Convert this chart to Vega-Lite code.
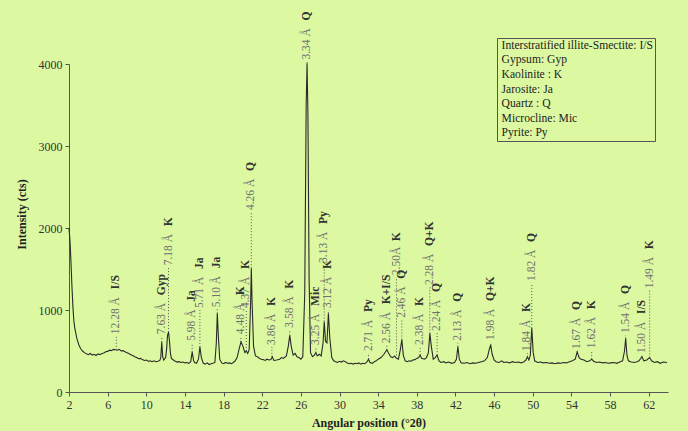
{
  "$schema": "https://vega.github.io/schema/vega-lite/v6.json",
  "width": 599,
  "height": 328,
  "autosize": {"type": "none"},
  "padding": {"left": 69, "top": 64, "right": 20, "bottom": 39},
  "background": "#dcf9a1",
  "config": {
    "view": {"stroke": null},
    "font": "Liberation Serif",
    "axis": {"labelOverlap": false, "labelFlush": false, "grid": false}
  },
  "datasets": {
    "pattern": [
      {"t": 2.0, "i": 2000}, {"t": 2.1, "i": 1850}, {"t": 2.2, "i": 1600}, {"t": 2.3, "i": 1300}, {"t": 2.4, "i": 1050},
      {"t": 2.5, "i": 870}, {"t": 2.6, "i": 780}, {"t": 2.7, "i": 720}, {"t": 2.8, "i": 660}, {"t": 2.9, "i": 620},
      {"t": 3.0, "i": 580}, {"t": 3.2, "i": 530}, {"t": 3.4, "i": 500}, {"t": 3.6, "i": 480}, {"t": 3.8, "i": 465},
      {"t": 4.0, "i": 455}, {"t": 4.2, "i": 470}, {"t": 4.4, "i": 450}, {"t": 4.6, "i": 460}, {"t": 4.8, "i": 445},
      {"t": 5.0, "i": 465}, {"t": 5.2, "i": 455}, {"t": 5.4, "i": 470}, {"t": 5.6, "i": 475}, {"t": 5.8, "i": 490},
      {"t": 6.0, "i": 495}, {"t": 6.2, "i": 510}, {"t": 6.4, "i": 505}, {"t": 6.6, "i": 520}, {"t": 6.8, "i": 515},
      {"t": 7.0, "i": 510}, {"t": 7.2, "i": 520}, {"t": 7.4, "i": 500}, {"t": 7.6, "i": 505}, {"t": 7.8, "i": 490},
      {"t": 8.0, "i": 480}, {"t": 8.2, "i": 470}, {"t": 8.4, "i": 455}, {"t": 8.6, "i": 445}, {"t": 8.8, "i": 430},
      {"t": 9.0, "i": 420}, {"t": 9.2, "i": 405}, {"t": 9.4, "i": 410}, {"t": 9.6, "i": 395}, {"t": 9.8, "i": 385},
      {"t": 10.0, "i": 390}, {"t": 10.2, "i": 375}, {"t": 10.4, "i": 380}, {"t": 10.6, "i": 370}, {"t": 10.8, "i": 380},
      {"t": 11.0, "i": 370}, {"t": 11.2, "i": 375}, {"t": 11.4, "i": 385}, {"t": 11.5, "i": 420}, {"t": 11.6, "i": 610},
      {"t": 11.7, "i": 430}, {"t": 11.8, "i": 390}, {"t": 12.0, "i": 420}, {"t": 12.1, "i": 520}, {"t": 12.2, "i": 690},
      {"t": 12.3, "i": 730}, {"t": 12.4, "i": 620}, {"t": 12.5, "i": 470}, {"t": 12.6, "i": 410}, {"t": 12.8, "i": 390},
      {"t": 13.0, "i": 375}, {"t": 13.2, "i": 365}, {"t": 13.4, "i": 370}, {"t": 13.6, "i": 360}, {"t": 13.8, "i": 365},
      {"t": 14.0, "i": 355}, {"t": 14.2, "i": 360}, {"t": 14.4, "i": 350}, {"t": 14.6, "i": 370}, {"t": 14.75, "i": 490},
      {"t": 14.9, "i": 380}, {"t": 15.0, "i": 360}, {"t": 15.2, "i": 350}, {"t": 15.4, "i": 400}, {"t": 15.55, "i": 550},
      {"t": 15.7, "i": 420}, {"t": 15.9, "i": 350}, {"t": 16.1, "i": 340}, {"t": 16.3, "i": 355}, {"t": 16.5, "i": 335},
      {"t": 16.7, "i": 345}, {"t": 16.9, "i": 350}, {"t": 17.1, "i": 360}, {"t": 17.25, "i": 600}, {"t": 17.35, "i": 960},
      {"t": 17.45, "i": 700}, {"t": 17.6, "i": 400}, {"t": 17.8, "i": 355}, {"t": 18.0, "i": 345}, {"t": 18.2, "i": 360},
      {"t": 18.4, "i": 350}, {"t": 18.6, "i": 355}, {"t": 18.8, "i": 345}, {"t": 19.0, "i": 360}, {"t": 19.2, "i": 380},
      {"t": 19.4, "i": 420}, {"t": 19.6, "i": 520}, {"t": 19.8, "i": 610}, {"t": 20.0, "i": 560}, {"t": 20.2, "i": 480},
      {"t": 20.35, "i": 500}, {"t": 20.5, "i": 470}, {"t": 20.65, "i": 520}, {"t": 20.8, "i": 1100}, {"t": 20.87, "i": 1510},
      {"t": 20.95, "i": 1100}, {"t": 21.1, "i": 560}, {"t": 21.3, "i": 440}, {"t": 21.5, "i": 430}, {"t": 21.7, "i": 410},
      {"t": 21.9, "i": 400}, {"t": 22.1, "i": 395}, {"t": 22.3, "i": 385}, {"t": 22.5, "i": 400}, {"t": 22.7, "i": 390},
      {"t": 22.9, "i": 395}, {"t": 23.05, "i": 430}, {"t": 23.2, "i": 385}, {"t": 23.5, "i": 390}, {"t": 23.8, "i": 400},
      {"t": 24.0, "i": 420}, {"t": 24.2, "i": 410}, {"t": 24.5, "i": 440}, {"t": 24.7, "i": 560}, {"t": 24.85, "i": 690},
      {"t": 25.0, "i": 560}, {"t": 25.2, "i": 450}, {"t": 25.4, "i": 470}, {"t": 25.6, "i": 430}, {"t": 25.8, "i": 420},
      {"t": 26.0, "i": 400}, {"t": 26.2, "i": 430}, {"t": 26.4, "i": 1200}, {"t": 26.55, "i": 3500}, {"t": 26.64, "i": 4010},
      {"t": 26.73, "i": 3400}, {"t": 26.85, "i": 1400}, {"t": 27.0, "i": 480}, {"t": 27.2, "i": 430}, {"t": 27.4, "i": 450},
      {"t": 27.55, "i": 480}, {"t": 27.7, "i": 440}, {"t": 27.9, "i": 460}, {"t": 28.1, "i": 440}, {"t": 28.3, "i": 600},
      {"t": 28.42, "i": 860}, {"t": 28.55, "i": 620}, {"t": 28.7, "i": 600}, {"t": 28.85, "i": 960}, {"t": 29.0, "i": 650},
      {"t": 29.2, "i": 420}, {"t": 29.4, "i": 380}, {"t": 29.6, "i": 370}, {"t": 29.8, "i": 360}, {"t": 30.0, "i": 375},
      {"t": 30.2, "i": 365}, {"t": 30.4, "i": 380}, {"t": 30.6, "i": 370}, {"t": 30.8, "i": 355}, {"t": 31.0, "i": 345},
      {"t": 31.2, "i": 350}, {"t": 31.4, "i": 340}, {"t": 31.6, "i": 350}, {"t": 31.8, "i": 345}, {"t": 32.0, "i": 355},
      {"t": 32.2, "i": 340}, {"t": 32.4, "i": 350}, {"t": 32.6, "i": 345}, {"t": 32.8, "i": 360}, {"t": 33.0, "i": 400},
      {"t": 33.15, "i": 360}, {"t": 33.4, "i": 350}, {"t": 33.6, "i": 370}, {"t": 33.8, "i": 380}, {"t": 34.0, "i": 400},
      {"t": 34.3, "i": 420}, {"t": 34.6, "i": 460}, {"t": 34.9, "i": 515}, {"t": 35.1, "i": 470}, {"t": 35.3, "i": 430},
      {"t": 35.5, "i": 420}, {"t": 35.7, "i": 440}, {"t": 35.9, "i": 410}, {"t": 36.1, "i": 400}, {"t": 36.3, "i": 520},
      {"t": 36.45, "i": 640}, {"t": 36.6, "i": 450}, {"t": 36.8, "i": 380}, {"t": 37.0, "i": 370}, {"t": 37.2, "i": 380},
      {"t": 37.4, "i": 375}, {"t": 37.6, "i": 390}, {"t": 37.8, "i": 395}, {"t": 38.0, "i": 410}, {"t": 38.2, "i": 420},
      {"t": 38.35, "i": 450}, {"t": 38.5, "i": 410}, {"t": 38.8, "i": 400}, {"t": 39.0, "i": 420}, {"t": 39.2, "i": 480},
      {"t": 39.35, "i": 715}, {"t": 39.5, "i": 560}, {"t": 39.7, "i": 400}, {"t": 39.9, "i": 420}, {"t": 40.1, "i": 450},
      {"t": 40.3, "i": 380}, {"t": 40.5, "i": 360}, {"t": 40.8, "i": 370}, {"t": 41.0, "i": 355}, {"t": 41.3, "i": 365},
      {"t": 41.6, "i": 350}, {"t": 41.9, "i": 360}, {"t": 42.1, "i": 400}, {"t": 42.25, "i": 555}, {"t": 42.4, "i": 400},
      {"t": 42.6, "i": 355}, {"t": 42.9, "i": 350}, {"t": 43.2, "i": 360}, {"t": 43.5, "i": 345}, {"t": 43.8, "i": 355},
      {"t": 44.1, "i": 350}, {"t": 44.4, "i": 360}, {"t": 44.7, "i": 370}, {"t": 45.0, "i": 380}, {"t": 45.3, "i": 420},
      {"t": 45.5, "i": 520}, {"t": 45.65, "i": 575}, {"t": 45.8, "i": 460}, {"t": 46.0, "i": 390}, {"t": 46.2, "i": 370},
      {"t": 46.5, "i": 360}, {"t": 46.8, "i": 380}, {"t": 47.0, "i": 360}, {"t": 47.3, "i": 365}, {"t": 47.6, "i": 355},
      {"t": 47.9, "i": 370}, {"t": 48.2, "i": 360}, {"t": 48.5, "i": 365}, {"t": 48.8, "i": 355}, {"t": 49.1, "i": 370},
      {"t": 49.3, "i": 390}, {"t": 49.45, "i": 430}, {"t": 49.6, "i": 390}, {"t": 49.75, "i": 450}, {"t": 49.9, "i": 780},
      {"t": 50.05, "i": 480}, {"t": 50.2, "i": 380}, {"t": 50.5, "i": 360}, {"t": 50.8, "i": 365}, {"t": 51.1, "i": 355},
      {"t": 51.4, "i": 360}, {"t": 51.7, "i": 350}, {"t": 52.0, "i": 355}, {"t": 52.3, "i": 345}, {"t": 52.6, "i": 355},
      {"t": 52.9, "i": 350}, {"t": 53.2, "i": 360}, {"t": 53.5, "i": 355}, {"t": 53.8, "i": 370}, {"t": 54.1, "i": 380},
      {"t": 54.4, "i": 400}, {"t": 54.6, "i": 490}, {"t": 54.8, "i": 420}, {"t": 55.0, "i": 400}, {"t": 55.3, "i": 390},
      {"t": 55.6, "i": 370}, {"t": 55.9, "i": 380}, {"t": 56.1, "i": 400}, {"t": 56.3, "i": 375}, {"t": 56.6, "i": 360},
      {"t": 56.9, "i": 365}, {"t": 57.2, "i": 355}, {"t": 57.5, "i": 360}, {"t": 57.8, "i": 350}, {"t": 58.1, "i": 355},
      {"t": 58.4, "i": 360}, {"t": 58.7, "i": 350}, {"t": 59.0, "i": 365}, {"t": 59.3, "i": 380}, {"t": 59.5, "i": 500},
      {"t": 59.62, "i": 655}, {"t": 59.75, "i": 450}, {"t": 59.9, "i": 380}, {"t": 60.2, "i": 365}, {"t": 60.5, "i": 360},
      {"t": 60.8, "i": 370}, {"t": 61.0, "i": 380}, {"t": 61.3, "i": 430}, {"t": 61.5, "i": 380}, {"t": 61.8, "i": 390},
      {"t": 62.1, "i": 420}, {"t": 62.3, "i": 380}, {"t": 62.6, "i": 360}, {"t": 62.9, "i": 370}, {"t": 63.2, "i": 350},
      {"t": 63.5, "i": 365}, {"t": 63.9, "i": 360}
    ],
    "peaks": [
      {"t": 6.9, "peak": 515, "lab": 680, "d": "12.28 Å", "m": "I/S"},
      {"t": 11.6, "peak": 610, "lab": 680, "d": "7.63 Å", "m": "Gyp"},
      {"t": 12.3, "peak": 730, "lab": 1520, "d": "7.18 Å", "m": "K"},
      {"t": 14.75, "peak": 490, "lab": 600, "d": "5.98 Å", "m": "Ja"},
      {"t": 15.55, "peak": 550, "lab": 1000, "d": "5.71 Å", "m": "Ja"},
      {"t": 17.35, "peak": 960, "lab": 1010, "d": "5.10 Å", "m": "Ja"},
      {"t": 19.8, "peak": 610, "lab": 680, "d": "4.48 Å", "m": "K"},
      {"t": 20.35, "peak": 500, "lab": 1000, "d": "4.37 Å", "m": "K"},
      {"t": 20.87, "peak": 1510, "lab": 2195, "d": "4.26 Å", "m": "Q"},
      {"t": 23.0, "peak": 430, "lab": 550, "d": "3.86 Å", "m": "K"},
      {"t": 24.85, "peak": 690, "lab": 760, "d": "3.58 Å", "m": "K"},
      {"t": 26.64, "peak": 4010, "lab": 4030, "d": "3.34 Å", "m": "Q"},
      {"t": 27.55, "peak": 480, "lab": 550, "d": "3.25 Å", "m": "Mic"},
      {"t": 28.42, "peak": 860, "lab": 1550, "d": "3.13 Å", "m": "Py"},
      {"t": 28.85, "peak": 960, "lab": 1000, "d": "3.12 Å", "m": "K"},
      {"t": 33.0, "peak": 400, "lab": 475, "d": "2.71 Å", "m": "Py"},
      {"t": 34.9, "peak": 515, "lab": 570, "d": "2.56 Å", "m": "K+I/S"},
      {"t": 35.9, "peak": 410, "lab": 1400, "d": "2.50Å", "m": "K"},
      {"t": 36.45, "peak": 640, "lab": 880, "d": "2.46 Å", "m": "Q"},
      {"t": 38.35, "peak": 450, "lab": 550, "d": "2.38 Å", "m": "K"},
      {"t": 39.35, "peak": 715, "lab": 1280, "d": "2.28 Å", "m": "Q+K"},
      {"t": 40.1, "peak": 450, "lab": 720, "d": "2.24 Å", "m": "Q"},
      {"t": 42.25, "peak": 555, "lab": 600, "d": "2.13 Å", "m": "Q"},
      {"t": 45.65, "peak": 575, "lab": 610, "d": "1.98 Å", "m": "Q+K"},
      {"t": 49.45, "peak": 430, "lab": 475, "d": "1.84 Å", "m": "K"},
      {"t": 49.9, "peak": 780, "lab": 1330, "d": "1.82 Å", "m": "Q"},
      {"t": 54.6, "peak": 490, "lab": 500, "d": "1.67 Å", "m": "Q"},
      {"t": 56.1, "peak": 400, "lab": 510, "d": "1.62 Å", "m": "K"},
      {"t": 59.62, "peak": 655, "lab": 695, "d": "1.54 Å", "m": "Q"},
      {"t": 61.3, "peak": 430, "lab": 450, "d": "1.50 Å", "m": "I/S"},
      {"t": 62.1, "peak": 420, "lab": 1240, "d": "1.49 Å", "m": "K"}
    ],
    "key": [
      {"entry": "Interstratified illite-Smectite: I/S"},
      {"entry": "Gypsum: Gyp"},
      {"entry": "Kaolinite : K"},
      {"entry": "Jarosite: Ja"},
      {"entry": "Quartz : Q"},
      {"entry": "Microcline: Mic"},
      {"entry": "Pyrite: Py"}
    ]
  },
  "encoding": {
    "x": {
      "field": "t", "type": "quantitative",
      "scale": {"domain": [2, 64], "nice": false, "zero": false},
      "axis": {
        "values": [2, 6, 10, 14, 18, 22, 26, 30, 34, 38, 42, 46, 50, 54, 58, 62],
        "labelOverlap": false, "labelFlush": false,
        "grid": false, "domainColor": "#555", "tickColor": "#555", "tickSize": 4,
        "labelFont": "Liberation Serif", "labelFontSize": 12, "labelColor": "#333", "labelPadding": 3,
        "title": "Angular position (°2θ)", "titleFont": "Liberation Serif", "titleFontSize": 12,
        "titleFontWeight": "bold", "titleColor": "#222", "titlePadding": 7
      }
    }
  },
  "layer": [
    {
      "data": {"name": "pattern"},
      "mark": {"type": "line", "color": "#2a2a2a", "strokeWidth": 1.1, "clip": false},
      "encoding": {
        "y": {
          "field": "i", "type": "quantitative",
          "scale": {"domain": [0, 4000], "nice": false},
          "axis": {
            "values": [0, 1000, 2000, 3000, 4000], "format": "d",
            "labelOverlap": false, "labelFlush": false,
            "grid": false, "domainColor": "#555", "tickColor": "#555", "tickSize": 4,
            "labelFont": "Liberation Serif", "labelFontSize": 12, "labelColor": "#333", "labelPadding": 3,
            "title": "Intensity (cts)", "titleFont": "Liberation Serif", "titleFontSize": 12,
            "titleFontWeight": "bold", "titleColor": "#222", "titlePadding": 10, "titleY": 150
          }
        }
      }
    },
    {
      "data": {"name": "peaks"},
      "mark": {"type": "rule", "color": "#555", "strokeWidth": 1, "strokeDash": [1, 2]},
      "encoding": {
        "y": {"field": "peak", "type": "quantitative"},
        "y2": {"field": "lab"}
      }
    },
    {
      "data": {"name": "peaks"},
      "mark": {"type": "text", "angle": 270, "align": "left", "baseline": "middle", "fontSize": 11.5, "color": "#707070", "dx": 2, "font": "Liberation Serif"},
      "encoding": {
        "y": {"field": "lab", "type": "quantitative"},
        "text": {"field": "d"}
      }
    },
    {
      "data": {"name": "peaks"},
      "transform": [{"filter": "length(datum.d) == 6"}],
      "mark": {"type": "text", "angle": 270, "align": "left", "baseline": "middle", "fontSize": 11.5, "fontWeight": "bold", "color": "#333", "dx": 41, "font": "Liberation Serif"},
      "encoding": {
        "y": {"field": "lab", "type": "quantitative"},
        "text": {"field": "m"}
      }
    },
    {
      "data": {"name": "peaks"},
      "transform": [{"filter": "length(datum.d) == 7"}],
      "mark": {"type": "text", "angle": 270, "align": "left", "baseline": "middle", "fontSize": 11.5, "fontWeight": "bold", "color": "#333", "dx": 47, "font": "Liberation Serif"},
      "encoding": {
        "y": {"field": "lab", "type": "quantitative"},
        "text": {"field": "m"}
      }
    },
    {
      "data": {"name": "peaks"},
      "transform": [{"filter": "length(datum.d) == 5"}],
      "mark": {"type": "text", "angle": 270, "align": "left", "baseline": "middle", "fontSize": 11.5, "fontWeight": "bold", "color": "#333", "dx": 36, "font": "Liberation Serif"},
      "encoding": {
        "y": {"field": "lab", "type": "quantitative"},
        "text": {"field": "m"}
      }
    },
    {
      "data": {"name": "key"},
      "mark": {"type": "point", "opacity": 0},
      "encoding": {
        "x": {"value": 0},
        "shape": {
          "field": "entry", "type": "nominal", "sort": null,
          "legend": {
            "orient": "none", "legendX": 428, "legendY": -26, "title": null,
            "strokeColor": "#555", "padding": 2, "symbolOpacity": 0, "symbolSize": 0,
            "symbolStrokeWidth": 0, "labelOffset": -9, "labelFont": "Liberation Serif",
            "labelFontSize": 11.6, "labelColor": "#222", "rowPadding": 1.6, "labelLimit": 400
          }
        }
      }
    }
  ]
}
